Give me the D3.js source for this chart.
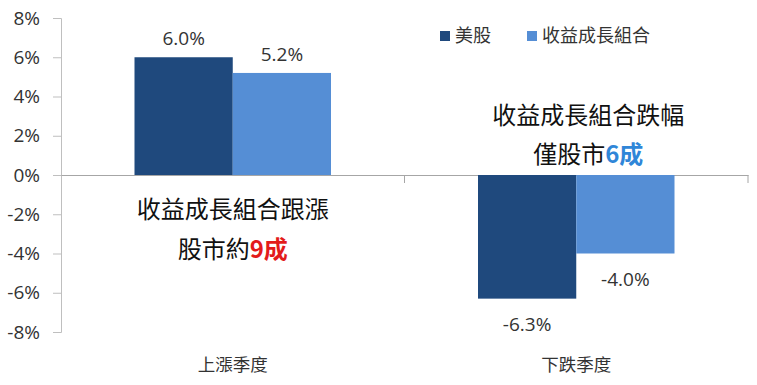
<!DOCTYPE html>
<html>
<head>
<meta charset="utf-8">
<script src="https://cdn.jsdelivr.net/npm/d3@7"></script>
<style>
  body { margin: 0; background: #fff; }
  svg text { font-family: "Open Sans", "Noto Sans CJK TC", sans-serif; }
</style>
</head>
<body>
<script>
// data
var categories = ["上漲季度", "下跌季度"];
var seriesNames = ["美股", "收益成長組合"];
var usStock = [6.0, -6.3];
var incomeGrowth = [5.2, -4.0];
var yTicks = [-8, -6, -4, -2, 0, 2, 4, 6, 8];

var colors = ["#1f497d", "#558ed5"];
var W = 757, H = 385;
var plotLeft = 61, plotRight = 748, plotTop = 18, plotBottom = 332;

var svg = d3.select("body").append("svg")
  .attr("width", W).attr("height", H);

var x = d3.scaleBand().domain(categories).range([plotLeft, plotRight]).paddingInner(0).paddingOuter(0);
var x1 = d3.scaleBand().domain(seriesNames).range([73.5, x.bandwidth() - 73.5]);
var y = d3.scaleLinear().domain([-8, 8]).range([plotBottom, plotTop]);

// y axis
var yAxis = d3.axisLeft(y).tickValues(yTicks).tickSize(8).tickPadding(13)
  .tickFormat(function (d) { return d + "%"; });
var gy = svg.append("g").attr("transform", "translate(" + plotLeft + ",0)").call(yAxis);
gy.select(".domain").attr("stroke", "#bfbfbf");
gy.selectAll(".tick line").attr("stroke", "#bfbfbf");
gy.selectAll(".tick text").attr("font-size", 19).attr("fill", "#333");

// zero line with category ticks
var gx = svg.append("g").attr("transform", "translate(0," + y(0) + ")")
  .call(d3.axisBottom(x).tickValues([]).tickSizeOuter(0));
gx.select(".domain").attr("stroke", "#a6a6a6");
gx.selectAll(".sep").data([x.range()[0] + x.bandwidth(), plotRight]).enter().append("line")
  .attr("x1", function (d) { return d; }).attr("x2", function (d) { return d; })
  .attr("y1", 0).attr("y2", 8).attr("stroke", "#a6a6a6");

// bars
var rows = categories.map(function (c, i) {
  return [{ cat: c, s: seriesNames[0], v: usStock[i] }, { cat: c, s: seriesNames[1], v: incomeGrowth[i] }];
});
var groups = svg.selectAll(".grp").data(rows).enter().append("g")
  .attr("transform", function (d) { return "translate(" + x(d[0].cat) + ",0)"; });
groups.selectAll("rect").data(function (d) { return d; }).enter().append("rect")
  .attr("x", function (d) { return x1(d.s); })
  .attr("width", x1.bandwidth())
  .attr("y", function (d) { return y(Math.max(0, d.v)); })
  .attr("height", function (d) { return Math.abs(y(d.v) - y(0)); })
  .attr("fill", function (d, i) { return colors[i]; });

// value labels
groups.selectAll(".val").data(function (d) { return d; }).enter().append("text")
  .attr("x", function (d) { return x1(d.s) + x1.bandwidth() / 2; })
  .attr("y", function (d) { return d.v >= 0 ? y(d.v) - 12 : y(d.v) + 32; })
  .attr("text-anchor", "middle").attr("font-size", 19).attr("fill", "#333")
  .text(function (d) { return d.v.toFixed(1) + "%"; });

// category labels
svg.selectAll(".cat").data(categories).enter().append("text")
  .attr("x", function (d) { return x(d) + x.bandwidth() / 2; })
  .attr("y", 371).attr("text-anchor", "middle").attr("font-size", 17.5).attr("fill", "#333")
  .style("font-family", "'Noto Sans CJK TC', sans-serif")
  .text(function (d) { return d; });

// legend
var lg = svg.append("g");
var legX = [440, 527];
seriesNames.forEach(function (n, i) {
  lg.append("rect").attr("x", legX[i]).attr("y", 31).attr("width", 10).attr("height", 10).attr("fill", colors[i]);
  lg.append("text").attr("x", legX[i] + 15).attr("y", 42).attr("font-size", 18).attr("fill", "#333")
    .style("font-family", "'Noto Sans CJK TC', sans-serif").text(n);
});

// annotations
function note(cx, yy, parts) {
  var t = svg.append("text").attr("x", cx).attr("y", yy).attr("text-anchor", "middle")
    .attr("font-size", 24).attr("fill", "#111")
    .style("font-family", "'Noto Sans CJK TC', sans-serif");
  parts.forEach(function (p) {
    var s = t.append("tspan").text(p[0]);
    if (p[1]) s.attr("fill", p[1]).attr("font-weight", "bold");
  });
}
var c0 = x(categories[0]) + x.bandwidth() / 2, c1 = x(categories[1]) + x.bandwidth() / 2 + 12;
note(c0, 218, [["收益成長組合跟漲"]]);
note(c0, 258, [["股市約"], ["9成", "#e31b1b"]]);
note(c1, 124, [["收益成長組合跌幅"]]);
note(c1, 163, [["僅股市"], ["6成", "#2f86d8"]]);
</script>
</body>
</html>
